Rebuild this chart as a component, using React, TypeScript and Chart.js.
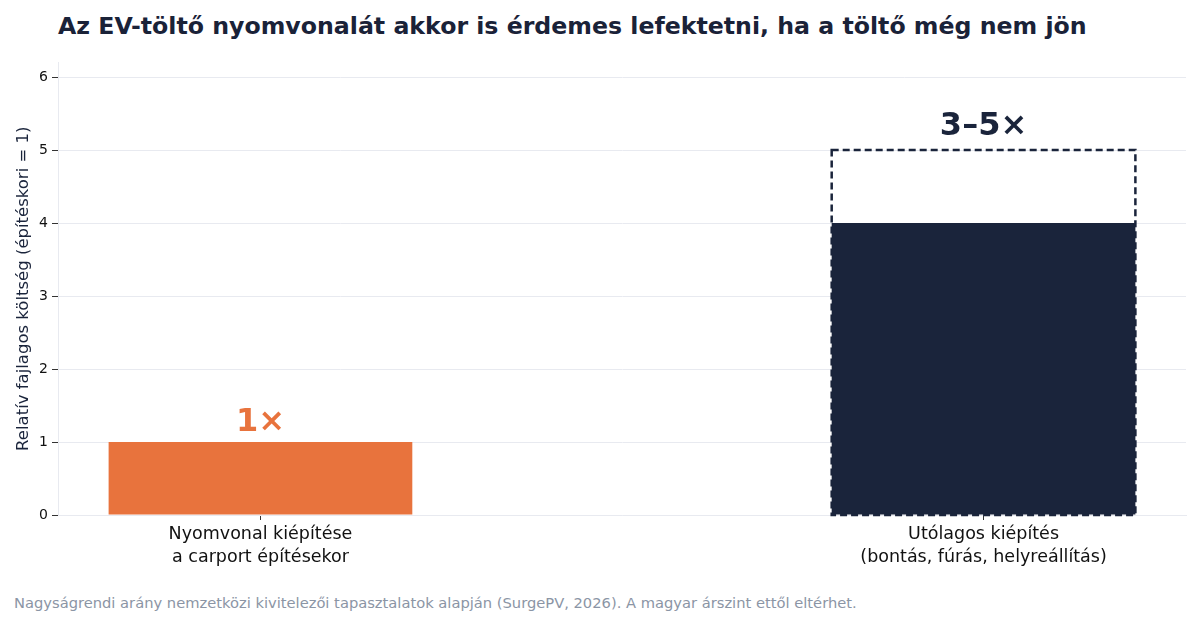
import { useEffect, useRef } from "react"
import { Chart, registerables } from "chart.js"

Chart.register(...registerables)

// Chart data
const categories = [
  ["Nyomvonal kiépítése", "a carport építésekor"],
  ["Utólagos kiépítés", "(bontás, fúrás, helyreállítás)"],
]
const baseValues = [1, 4]
const upperValues = [null, 5] // top of the range, drawn as a dashed outline
const valueLabels = ["1×", "3–5×"]
const yTicks = [0, 1, 2, 3, 4, 5, 6]

const ORANGE = "#E8733D"
const NAVY = "#1A243B"
const GRID = "#E8EAF0"
const FONT = "'DejaVu Sans', sans-serif"

const rangeAndLabels = {
  id: "rangeAndLabels",
  afterDatasetsDraw(chart: Chart) {
    const { ctx, scales } = chart
    const x = scales.x
    const y = scales.y
    const meta = chart.getDatasetMeta(0)
    ctx.save()
    meta.data.forEach((bar: any, i: number) => {
      const half = bar.width / 2
      const upper = upperValues[i]
      let topPx = y.getPixelForValue(baseValues[i])
      if (upper != null) {
        // dashed outline for the upper range
        topPx = y.getPixelForValue(upper)
        const left = x.getPixelForValue(i) - half
        const bottom = y.getPixelForValue(0)
        ctx.strokeStyle = NAVY
        ctx.lineWidth = 2.5
        ctx.setLineDash([7, 4])
        ctx.strokeRect(left, topPx, bar.width, bottom - topPx)
        ctx.setLineDash([])
      }
      ctx.fillStyle = i === 0 ? ORANGE : NAVY
      ctx.font = `bold 32px ${FONT}`
      ctx.textAlign = "center"
      ctx.textBaseline = "alphabetic"
      ctx.fillText(valueLabels[i], x.getPixelForValue(i), topPx - (upper != null ? 15 : 11))
    })
    ctx.restore()
  },
}

export default function App() {
  const chartRef = useRef<HTMLCanvasElement>(null)
  const chartInstance = useRef<Chart | null>(null)

  useEffect(() => {
    if (!chartRef.current) return
    if (chartInstance.current) chartInstance.current.destroy()

    const ctx = chartRef.current.getContext("2d")
    if (!ctx) return

    chartInstance.current = new Chart(ctx, {
      type: "bar",
      data: {
        datasets: [
          {
            data: baseValues.map((v, i) => ({ x: i, y: v })),
            backgroundColor: [ORANGE, NAVY],
            borderWidth: 0,
            barPercentage: 0.42,
            categoryPercentage: 1,
          },
        ],
      },
      options: {
        animation: false,
        responsive: true,
        maintainAspectRatio: false,
        layout: { padding: { top: 10, right: 14, left: 0, bottom: 0 } },
        plugins: {
          legend: { display: false },
          tooltip: { enabled: false },
        },
        scales: {
          x: {
            type: "linear",
            min: -0.28,
            max: 1.28,
            offset: false,
            afterBuildTicks: (axis: any) => {
              axis.ticks = categories.map((_, i) => ({ value: i }))
            },
            afterFit: (axis: any) => {
              axis.height = 65
            },
            ticks: {
              autoSkip: false,
              maxRotation: 0,
              padding: 3,
              color: "#111111",
              font: { family: FONT, size: 17.5, lineHeight: 1.3 },
              callback: (value: any) => categories[value as number] ?? "",
            },
            grid: {
              offset: false,
              drawOnChartArea: false,
              drawTicks: true,
              tickLength: 5,
              tickColor: "#333333",
            },
            border: { color: GRID },
          },
          y: {
            min: 0,
            max: 6.2,
            afterBuildTicks: (axis: any) => {
              axis.ticks = yTicks.map((v) => ({ value: v }))
            },
            afterFit: (axis: any) => {
              axis.width = 58
            },
            ticks: {
              color: "#111111",
              padding: 4,
              font: { family: FONT, size: 14 },
            },
            grid: {
              color: GRID,
              tickColor: "#333333",
              tickLength: 6,
            },
            border: { color: GRID },
            title: {
              display: true,
              text: "Relatív fajlagos költség (építéskori = 1)",
              color: NAVY,
              font: { family: FONT, size: 16.5 },
              padding: { top: 14, bottom: 0 },
            },
          },
        },
      },
      plugins: [rangeAndLabels],
    })

    return () => {
      if (chartInstance.current) {
        chartInstance.current.destroy()
        chartInstance.current = null
      }
    }
  }, [])

  return (
    <div
      style={{
        position: "fixed",
        left: 0,
        top: 0,
        width: 1200,
        height: 630,
        background: "#ffffff",
        fontFamily: FONT,
      }}
    >
      <div
        style={{
          position: "absolute",
          left: 58,
          top: 12,
          fontSize: 23.65,
          fontWeight: "bold",
          color: "#1A2238",
          whiteSpace: "nowrap",
        }}
      >
        Az EV-töltő nyomvonalát akkor is érdemes lefektetni, ha a töltő még nem jön
      </div>
      <div style={{ position: "absolute", left: 0, top: 50, width: 1200, height: 530 }}>
        <canvas ref={chartRef} />
      </div>
      <div
        style={{
          position: "absolute",
          left: 14,
          top: 594,
          fontSize: 14.7,
          color: "#8B95A5",
          whiteSpace: "nowrap",
        }}
      >
        Nagyságrendi arány nemzetközi kivitelezői tapasztalatok alapján (SurgePV, 2026). A magyar
        árszint ettől eltérhet.
      </div>
    </div>
  )
}
